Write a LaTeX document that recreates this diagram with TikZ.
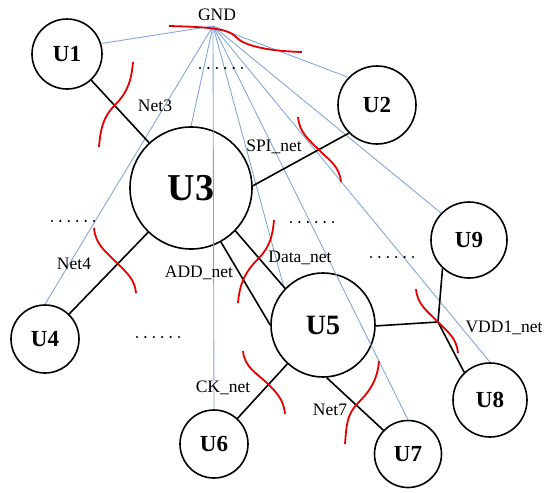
\documentclass[tikz,border=0pt]{standalone}
\usepackage{fontspec}
\setmainfont{Liberation Serif}
\usetikzlibrary{arrows.meta}
\definecolor{gndblue}{RGB}{125,163,218}
\definecolor{cutred}{RGB}{228,0,0}
\tikzset{
  comp/.style={circle,draw,line width=1.6pt,inner sep=0pt,font=\fontsize{23}{25}\selectfont\bfseries},
  netline/.style={line width=1.6pt},
  gndline/.style={draw=gndblue,line width=0.85pt},
  cutmark/.style={draw=cutred,line width=1.8pt},
  lbl/.style={font=\fontsize{17.5}{20}\selectfont,inner sep=0pt,anchor=base},
  dotfill/.style={fill=black},
}
\begin{document}
\begin{tikzpicture}[x=1pt,y=-1pt]
\useasboundingbox (0,0) rectangle (550,493);
% components
\node[comp,minimum size=70pt] (u1) at (67,54) {U1};
\node[comp,minimum size=78pt] (u2) at (377,105) {U2};
\node[comp,minimum size=122pt,font=\fontsize{38}{40}\selectfont\bfseries] (u3) at (191,188) {U3};
\node[comp,minimum size=68pt] (u4) at (45,339) {U4};
\node[comp,minimum size=104pt,font=\fontsize{28}{30}\selectfont\bfseries] (u5) at (323,325) {U5};
\node[comp,minimum size=68pt] (u6) at (214,444) {U6};
\node[comp,minimum size=67pt] (u7) at (408,454) {U7};
\node[comp,minimum size=74pt] (u8) at (490,400) {U8};
\node[comp,minimum size=76pt] (u9) at (469,240) {U9};
\coordinate (gnd) at (213,26);
\coordinate (vj) at (438,322);
% GND lines
\draw[gndline] (gnd) -- (u1.17);
\draw[gndline] (gnd) -- (u2.136);
\draw[gndline] (gnd) -- (u3.north);
\draw[gndline] (gnd) -- (u4.north);
\draw[gndline] (gnd) -- (u5.137);
\draw[gndline,{Triangle[length=4pt,width=4pt]}-] (gnd) -- (u6.north);
\draw[gndline] (gnd) -- (u7.north);
\draw[gndline] (gnd) -- (u8.north);
\draw[gndline] (gnd) -- (u9.136);
% nets
\draw[netline] (u1) -- (u3);
\draw[netline] (u3.2) -- (u2.225);
\draw[netline] (u3) -- (u4);
\draw[netline] (u3.-61) -- (u5.180);
\draw[netline] (u3.-44) -- (u5.136);
\draw[netline] (u5.-1) -- (vj);
\draw[netline] (vj) -- (u9.227);
\draw[netline] (vj) -- (u8.133);
\draw[netline] (u5) -- (u6);
\draw[netline] (u5.-86) -- (u7.136);
% cut marks
\draw[cutmark] (133,62) to[out=-95,in=45] (115,105) to[out=225,in=85] (99,147);
\draw[cutmark] (298,117) to[out=-85,in=135] (318,149) to[out=-45,in=95] (341,182);
\draw[cutmark] (94,228) to[out=-85,in=135] (117,263) to[out=-45,in=95] (136,293);
\draw[cutmark] (274,220) to[out=-95,in=45] (258,259) to[out=225,in=85] (238,303);
\draw[cutmark] (243,351) to[out=-85,in=135] (269,385) to[out=-45,in=95] (285,414);
\draw[cutmark] (379,361) to[out=-95,in=45] (358,403) to[out=225,in=85] (345,444);
\draw[cutmark] (416,289) to[out=-85,in=135] (438,322) to[out=-45,in=95] (458,353);
\draw[cutmark] (169,26) .. controls (205,27) and (228,28) .. (236,37) .. controls (243,45) and (265,51) .. (302,52);
% labels
\node[lbl] (lgnd) at (217,20) {GND};
\node[lbl] (lnet3) at (155,111) {Net3};
\node[lbl] (lspi) at (274,151) {SPI\_net};
\node[lbl] (lnet4) at (74,269) {Net4};
\node[lbl] (ladd) at (199,277) {ADD\_net};
\node[lbl] (ldata) at (300,262) {Data\_net};
\node[lbl] (lvdd) at (504,332) {VDD1\_net};
\node[lbl] (lck) at (223,392) {CK\_net};
\node[lbl] (lnet7) at (330,415) {Net7};
% ellipsis dots
\foreach \cx/\cy in {221/68,73/221,312/222,392/257,158/337}{
  \foreach \d in {-21,-12.6,-4.2,4.2,12.6,21}{
    \fill[dotfill] (\cx+\d,\cy) circle (1.2pt);
  }
}
\end{tikzpicture}
\end{document}
